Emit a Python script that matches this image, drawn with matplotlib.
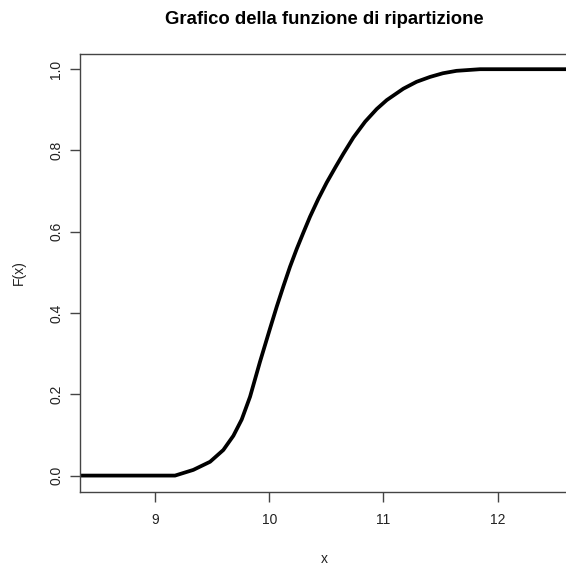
import matplotlib
matplotlib.use("Agg")
import matplotlib.pyplot as plt

plt.rcParams['font.family'] = ['Liberation Sans', 'DejaVu Sans']

# values
x_vals = [8.30, 9.175, 9.335, 9.482, 9.598, 9.686, 9.759, 9.832, 9.919,
          10.007, 10.066, 10.124, 10.182, 10.241, 10.299, 10.357, 10.43,
          10.503, 10.58, 10.649, 10.737, 10.84, 10.941, 11.029, 11.174,
          11.29, 11.408, 11.52, 11.64, 11.846, 12.70]
f_vals = [0.0, 0.0, 0.014, 0.034, 0.063, 0.098, 0.138, 0.194, 0.280,
          0.362, 0.416, 0.466, 0.514, 0.558, 0.598, 0.637, 0.681,
          0.721, 0.759, 0.792, 0.832, 0.871, 0.902, 0.924, 0.952,
          0.969, 0.981, 0.990, 0.996, 1.0, 1.0]

x_ticks = [9, 10, 11, 12]
y_ticks = [0.0, 0.2, 0.4, 0.6, 0.8, 1.0]
y_ticklabels = ['0.0', '0.2', '0.4', '0.6', '0.8', '1.0']

W, H = 566, 570
fig = plt.figure(figsize=(W / 100, H / 100), dpi=100)
ax = fig.add_axes([80 / W, 1 - 492 / H, (568 - 80) / W, (492 - 54) / H])

ax.plot(x_vals, f_vals, color='black', linewidth=2.7,
        solid_joinstyle='round', solid_capstyle='butt')

ax.set_xlim(8.343, 12.616)
ax.set_ylim(-0.0404, 1.0374)

ax.set_xticks(x_ticks)
ax.set_xticklabels([str(t) for t in x_ticks])
ax.set_yticks(y_ticks)
ax.set_yticklabels(y_ticklabels, rotation=90, va='center')

axis_col = '#444444'
for s in ax.spines.values():
    s.set_color(axis_col)
    s.set_linewidth(1.0)
ax.tick_params(axis='both', length=7.2, width=1.0, color=axis_col,
               labelsize=10, labelcolor='#222222')
ax.tick_params(axis='x', pad=8)
ax.tick_params(axis='y', pad=5)

fig.text(324 / W, 1 - 19 / H, 'Grafico della funzione di ripartizione',
         ha='center', va='center', fontsize=13.3, fontweight='bold')
fig.text(324 / W, 1 - 559 / H, 'x', ha='center', va='center', fontsize=10,
         color='#222222')
fig.text(19 / W, 1 - 273 / H, 'F(x)', ha='center', va='center', fontsize=10,
         rotation=90, color='#222222')

fig.savefig('out.png', dpi=100)
